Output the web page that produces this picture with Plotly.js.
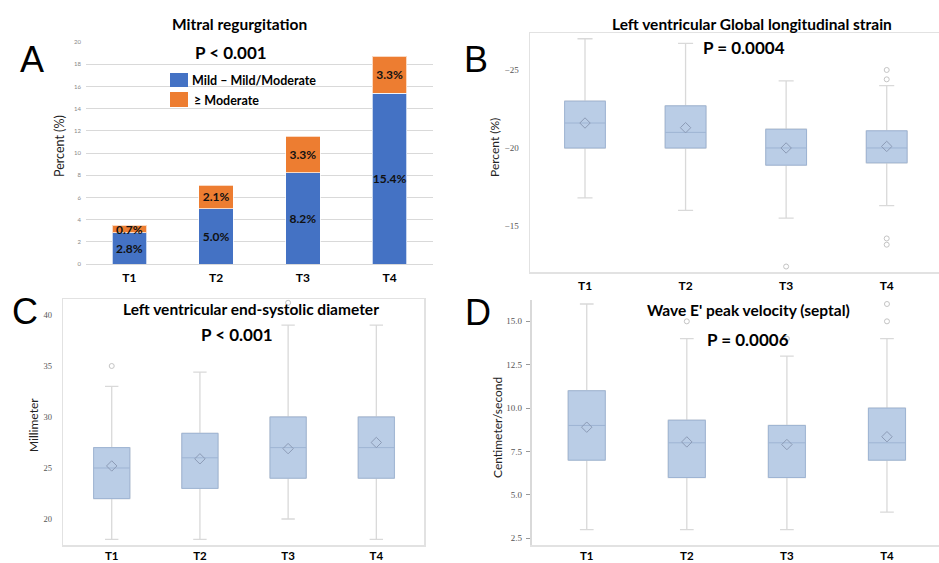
<!DOCTYPE html>
<html>
<head>
<meta charset="utf-8">
<script src="https://cdn.plot.ly/plotly-3.0.1.min.js"></script>
<style>html,body{margin:0;padding:0;background:#fff;}#chart{width:939px;height:563px;}</style>
</head>
<body>
<div id="chart"></div>
<script>
// ---------- DATA ----------
const categories = ['T1', 'T2', 'T3', 'T4'];

// Panel A: Mitral regurgitation (percent)
const mrMild = [2.8, 5.0, 8.2, 15.4];
const mrModerate = [0.7, 2.1, 3.3, 3.3];

// Panel B: LV global longitudinal strain (%)
const glsLower = [-27.0, -26.7, -24.3, -24.0];
const glsQ1 = [-23.0, -22.7, -21.2, -21.1];
const glsMedian = [-21.6, -21.0, -20.0, -20.0];
const glsQ3 = [-20.0, -20.0, -18.9, -19.05];
const glsUpper = [-16.8, -16.0, -15.5, -16.3];
const glsMean = [-21.6, -21.3, -20.0, -20.1];
const glsOutlierCats = ['T3', 'T4', 'T4', 'T4', 'T4'];
const glsOutlierVals = [-12.4, -25.0, -24.4, -14.2, -13.8];

// Panel C: LV end-systolic diameter (mm)
const lvesdLower = [18.0, 18.0, 20.0, 18.0];
const lvesdQ1 = [22.0, 23.0, 24.0, 24.0];
const lvesdMedian = [25.0, 26.0, 27.0, 27.0];
const lvesdQ3 = [27.0, 28.4, 30.0, 30.0];
const lvesdUpper = [33.0, 34.4, 39.0, 39.0];
const lvesdMean = [25.2, 25.9, 26.9, 27.5];
const lvesdOutlierCats = ['T1', 'T3'];
const lvesdOutlierVals = [35.0, 41.2];

// Panel D: Wave E' peak velocity, septal (cm/s)
const ePrimeLower = [3.0, 3.0, 3.0, 4.0];
const ePrimeQ1 = [7.0, 6.0, 6.0, 7.0];
const ePrimeMedian = [9.0, 8.0, 8.0, 8.0];
const ePrimeQ3 = [11.0, 9.3, 9.0, 10.0];
const ePrimeUpper = [16.0, 14.0, 13.0, 14.0];
const ePrimeMean = [8.9, 8.05, 7.9, 8.35];
const ePrimeOutlierCats = ['T2', 'T3', 'T4', 'T4'];
const ePrimeOutlierVals = [15.0, 14.0, 16.0, 15.0];

// ---------- HELPERS ----------
const W = 939, H = 563;
const px = x => x / W;
const py = y => 1 - y / H;

const boxFill = 'rgb(186,205,230)';
const boxEdge = 'rgb(158,180,211)';
const whiskerCol = '#d9d9d9';

function boxTraces(xa, ya, lo, q1, med, q3, hi, mean, oCats, oVals, w) {
  return [
    { type: 'box', xaxis: xa, yaxis: ya, x: categories, q1: q1, median: med, q3: q3,
      lowerfence: lo, upperfence: hi, width: w, whiskerwidth: 0.37, boxpoints: false,
      line: { color: whiskerCol, width: 1.3 }, fillcolor: 'rgba(0,0,0,0)', hoverinfo: 'skip' },
    { type: 'box', xaxis: xa, yaxis: ya, x: categories, q1: q1, median: med, q3: q3,
      lowerfence: q1, upperfence: q3, width: w, whiskerwidth: 0, boxpoints: false,
      line: { color: boxEdge, width: 1 }, fillcolor: boxFill },
    { type: 'scatter', mode: 'markers', xaxis: xa, yaxis: ya, x: categories, y: mean,
      marker: { symbol: 'diamond-open', size: 8, color: 'rgb(140,155,182)', line: { width: 1 } } },
    { type: 'scatter', mode: 'markers', xaxis: xa, yaxis: ya, x: oCats, y: oVals,
      marker: { symbol: 'circle-open', size: 5, color: '#c4c4c4', line: { width: 1 } } }
  ];
}

const data = [
  { type: 'bar', x: categories, y: mrMild, xaxis: 'x', yaxis: 'y', width: 0.4,
    marker: { color: '#4472C4', line: { color: 'rgba(255,255,255,0.7)', width: 1 } },
    text: mrMild.map(v => v.toFixed(1) + '%'), textposition: 'inside', insidetextanchor: 'middle',
    textangle: 0, constraintext: 'none',
    textfont: { family: 'Lato', size: 12, color: '#111', weight: 'bold' } },
  { type: 'bar', x: categories, y: mrModerate, xaxis: 'x', yaxis: 'y', width: 0.4,
    marker: { color: '#ED7D31', line: { color: 'rgba(255,255,255,0.7)', width: 1 } },
    text: mrModerate.map(v => v.toFixed(1) + '%'), textposition: 'inside', insidetextanchor: 'middle',
    textangle: 0, constraintext: 'none',
    textfont: { family: 'Lato', size: 12, color: '#111', weight: 'bold' } }
].concat(
  boxTraces('x2', 'y2', glsLower, glsQ1, glsMedian, glsQ3, glsUpper, glsMean, glsOutlierCats, glsOutlierVals, 0.405),
  boxTraces('x3', 'y3', lvesdLower, lvesdQ1, lvesdMedian, lvesdQ3, lvesdUpper, lvesdMean, lvesdOutlierCats, lvesdOutlierVals, 0.41),
  boxTraces('x4', 'y4', ePrimeLower, ePrimeQ1, ePrimeMedian, ePrimeQ3, ePrimeUpper, ePrimeMean, ePrimeOutlierCats, ePrimeOutlierVals, 0.37)
);

const xTickFont = { family: 'Lato', size: 12, color: '#000', weight: 'bold' };
const xTickFontSmall = { family: 'Lato', size: 11.5, color: '#000', weight: 'bold' };
const serifTick = { family: 'Liberation Serif', size: 9, color: '#555' };
const frameCol = '#e2e2e2';

const layout = {
  width: W, height: H,
  margin: { l: 0, r: 0, t: 0, b: 0 },
  paper_bgcolor: '#fff', plot_bgcolor: 'rgba(0,0,0,0)',
  showlegend: false, barmode: 'stack', boxmode: 'overlay',
  font: { family: 'Lato', color: '#000' },
  // Panel A
  xaxis: { domain: [px(86), px(433)], anchor: 'y', type: 'category', range: [-0.5, 3.5],
    showline: false, showgrid: false, ticks: '', tickfont: xTickFont, ticklabelstandoff: 5, fixedrange: true },
  yaxis: { domain: [py(264), py(42)], anchor: 'x', range: [0, 20], dtick: 2, tick0: 0,
    showgrid: true, gridcolor: '#d9d9d9', gridwidth: 1, zeroline: true, zerolinecolor: '#d9d9d9',
    showline: false, ticks: '', tickfont: { family: 'Lato', size: 6, color: '#888' }, ticklabelstandoff: 4 },
  // Panel B
  xaxis2: { domain: [px(530), 1], anchor: 'y2', type: 'category', range: [-0.547, 3.52],
    showline: true, mirror: true, linecolor: frameCol, linewidth: 1.5, showgrid: false, ticks: '',
    tickfont: xTickFont, ticklabelstandoff: 2 },
  yaxis2: { domain: [py(272), py(33)], anchor: 'x2', range: [-12.05, -27.37], dtick: 5, tick0: 0,
    showline: true, linecolor: frameCol, linewidth: 1.5, showgrid: false, zeroline: false, ticks: '',
    tickfont: serifTick, ticklabelstandoff: 8 },
  // Panel C
  xaxis3: { domain: [px(63.3), px(424.3)], anchor: 'y3', type: 'category', range: [-0.549, 3.544],
    showline: true, mirror: true, linecolor: frameCol, linewidth: 1.5, showgrid: false, ticks: '',
    tickfont: xTickFontSmall, ticklabelstandoff: 0 },
  yaxis3: { domain: [py(545), py(299.3)], anchor: 'x3', range: [17.45, 41.54], dtick: 5, tick0: 0,
    showline: true, mirror: true, linecolor: frameCol, linewidth: 1.5, showgrid: false, zeroline: false,
    ticks: '', tickfont: { family: 'Liberation Serif', size: 8.5, color: '#555' }, ticklabelstandoff: 8 },
  // Panel D
  xaxis4: { domain: [px(531.7), 1], anchor: 'y4', type: 'category', range: [-0.55, 3.52],
    showline: true, linecolor: frameCol, linewidth: 1.5, showgrid: false, ticks: '',
    tickfont: xTickFontSmall, ticklabelstandoff: 0 },
  yaxis4: { domain: [py(545), py(300)], anchor: 'x4', range: [2.11, 16.23], dtick: 2.5, tick0: 0,
    tickformat: '.1f', showline: true, linecolor: '#d9d9d9', linewidth: 2, showgrid: false, zeroline: false,
    ticks: 'outside', ticklen: 4, tickcolor: '#999', tickwidth: 1,
    tickfont: serifTick, ticklabelstandoff: 2 },
  shapes: [
    { type: 'rect', xref: 'paper', yref: 'paper', x0: px(170), x1: px(188), y0: py(87), y1: py(73),
      fillcolor: '#4472C4', line: { width: 0 } },
    { type: 'rect', xref: 'paper', yref: 'paper', x0: px(170), x1: px(188), y0: py(107), y1: py(92),
      fillcolor: '#ED7D31', line: { width: 0 } }
  ],
  annotations: []
};

function ann(text, x, y, size, opts) {
  const o = Object.assign({ weight: 'bold', family: 'Lato', color: '#000', anchor: 'center', angle: 0 }, opts || {});
  layout.annotations.push({ text: text, xref: 'paper', yref: 'paper', x: px(x), y: py(y),
    xanchor: o.anchor, yanchor: 'middle', showarrow: false, textangle: o.angle,
    font: { family: o.family, size: size, color: o.color, weight: o.weight } });
}

// Panel A texts
ann('Mitral regurgitation', 239, 24, 15.5);
ann('P &lt; 0.001', 231, 52, 17);
ann('Mild – Mild/Moderate', 190, 80, 12.5, { anchor: 'left' });
ann('≥ Moderate', 192, 100, 12.5, { anchor: 'left' });
ann('Percent (%)', 60, 146, 12.5, { weight: 'normal', angle: -90, color: '#222' });
ann('A', 32, 60, 36, { weight: 'normal', family: 'Liberation Sans' });
// Panel B texts
ann('Left ventricular Global longitudinal strain', 752, 24, 15.5);
ann('P = 0.0004', 744, 48, 17);
ann('Percent (%)', 494, 148, 12, { weight: 'normal', angle: -90, color: '#222' });
ann('B', 476, 59, 36, { weight: 'normal', family: 'Liberation Sans' });
// Panel C texts
ann('Left ventricular end-systolic diameter', 251, 309, 15.5);
ann('P &lt; 0.001', 237, 334, 17);
ann('Millimeter', 33, 425, 12, { weight: 'normal', angle: -90, color: '#222' });
ann('C', 25, 311, 36, { weight: 'normal', family: 'Liberation Sans' });
// Panel D texts
ann("Wave E' peak velocity (septal)", 748, 310, 15.5);
ann('P = 0.0006', 748, 339, 17);
ann('Centimeter/second', 497, 427, 12, { weight: 'normal', angle: -90, color: '#222' });
ann('D', 478, 312, 36, { weight: 'normal', family: 'Liberation Sans' });

Plotly.newPlot('chart', data, layout, { staticPlot: true, displayModeBar: false });
</script>
</body>
</html>
